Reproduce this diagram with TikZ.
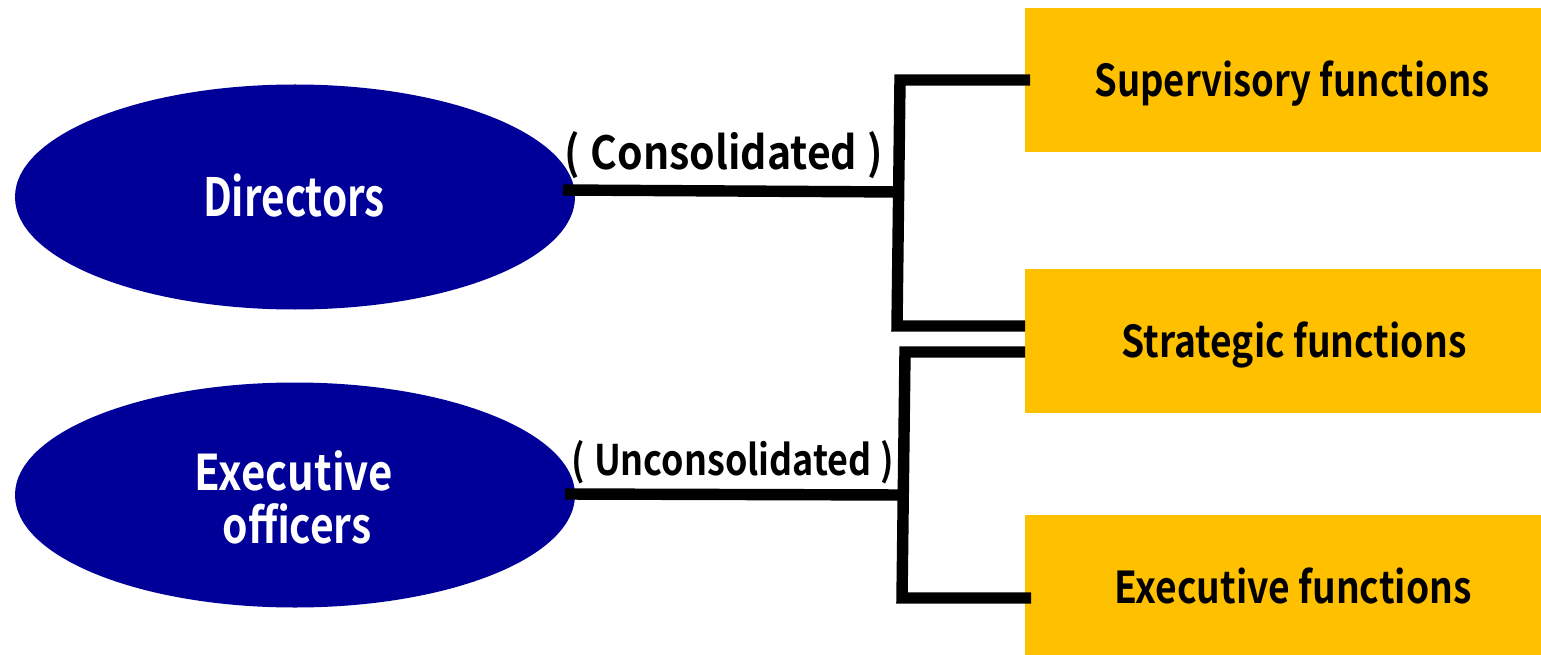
\documentclass[tikz,border=0pt]{standalone}
\usepackage{fontspec}
\usepackage{graphicx}
\setmainfont{Noto Sans CJK JP}[BoldFont={Noto Sans CJK JP Bold}]
\usetikzlibrary{shapes.geometric}
\newdimen\pxu \pxu=0.02cm
\newcommand{\fw}[3]{\resizebox{#1\pxu}{\height}{\fontsize{#2}{#2}\selectfont\bfseries #3}}
\definecolor{navyell}{RGB}{0,0,153}
\definecolor{goldbox}{RGB}{255,192,0}
\tikzset{
  ell/.style={ellipse, fill=navyell, minimum width=560*0.02cm, minimum height=225*0.02cm, inner sep=0pt},
  fbox/.style={fill=goldbox, minimum width=516*0.02cm, minimum height=144*0.02cm, inner sep=0pt, anchor=north west},
  lbl/.style={inner sep=0pt, anchor=base},
  wlbl/.style={lbl, text=white},
  con/.style={line width=6.5pt}
}
\begin{document}
\begin{tikzpicture}[x=0.02cm,y=-0.02cm]
\useasboundingbox (0,0) rectangle (1541,655);
\node[ell] (dir) at (295,197) {};
\node[ell] (exo) at (295,495) {};
\node[wlbl] (dirt) at (294,216) {\fw{182}{30}{Directors}};
\node[wlbl] (exot1) at (294,490) {\fw{198}{28}{Executive}};
\node[wlbl] (exot2) at (297,543) {\fw{149}{28}{officers}};
\node[fbox] (sup) at (1025,8) {};
\node[fbox] (str) at (1025,269) {};
\node[fbox, minimum height=140*0.02cm] (exf) at (1025,515) {};
\node[lbl] (supt) at (1292,97) {\fw{395}{25}{Supervisory functions}};
\node[lbl] (strt) at (1294,357) {\fw{345}{25}{Strategic functions}};
\node[lbl] (exft) at (1293,603) {\fw{357}{25}{Executive functions}};
\node[lbl] (l1) at (724,170) {\fw{318}{26}{(\hspace{0.25em}Consolidated\hspace{0.25em})}};
\node[lbl] (l2) at (733,475) {\fw{323}{24}{(\hspace{0.25em}Unconsolidated\hspace{0.25em})}};
\coordinate (a1) at (899,192);
\coordinate (a2) at (903,495);
\coordinate (j1) at (900,80);
\coordinate (j2) at (897,326);
\coordinate (j3) at (905,352);
\coordinate (j4) at (902,598);
\draw[con] (563,190) -- (a1);
\draw[con] (sup.west |- j1) ++(5,0) -- (j1) -- (j2) -- (str.west |- j2);
\draw[con] (565,494) -- (a2);
\draw[con] (str.west |- j3) -- (j3) -- (j4) -- ([xshift=6*0.02cm]exf.west |- j4);
\end{tikzpicture}
\end{document}
